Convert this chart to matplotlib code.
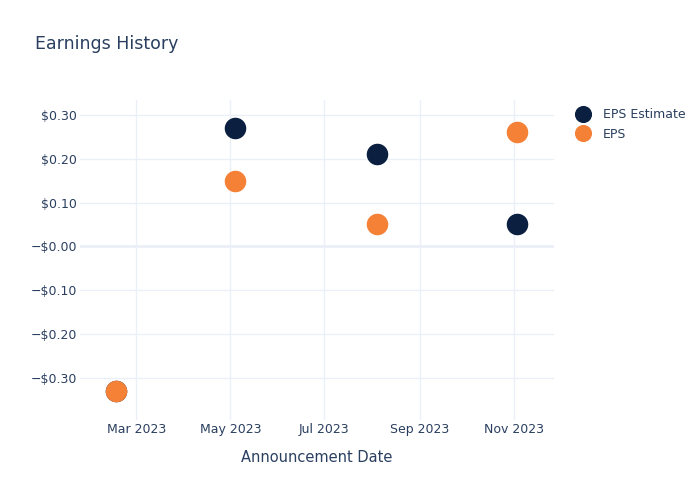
import numpy as np
import matplotlib
matplotlib.use("Agg")
import matplotlib.pyplot as plt
import matplotlib.dates as mdates
from datetime import datetime

# announcement dates and eps values
dates = [datetime(2023, 2, 16), datetime(2023, 5, 4), datetime(2023, 8, 4), datetime(2023, 11, 3)]
eps_estimate = [-0.33, 0.27, 0.21, 0.05]
eps_actual = [-0.33, 0.15, 0.05, 0.26]

y_ticks = [-0.30, -0.20, -0.10, 0.0, 0.10, 0.20, 0.30]
y_labels = ["\u2212$0.30", "\u2212$0.20", "\u2212$0.10", "\u2212$0.00", "$0.10", "$0.20", "$0.30"]

text_col = "#2a3f5f"
grid_col = "#ebf0f8"

fig = plt.figure(figsize=(7, 5), dpi=100)
ax = fig.add_axes([80 / 700, 80 / 500, 474 / 700, 320 / 500])

ax.plot(dates, eps_estimate, "o", color="#0b1f41", markersize=14.5, label="EPS Estimate", zorder=3)
ax.plot(dates, eps_actual, "o", color="#f58137", markersize=14.5, label="EPS", zorder=4)

ax.set_xlim(datetime(2023, 1, 23, 12), datetime(2023, 11, 27))
ax.set_ylim(-0.396, 0.334)

ax.xaxis.set_major_locator(mdates.MonthLocator(bymonth=[3, 5, 7, 9, 11]))
ax.xaxis.set_major_formatter(mdates.DateFormatter("%b %Y"))
ax.set_yticks(y_ticks)
ax.set_yticklabels(y_labels)

for s in ax.spines.values():
    s.set_visible(False)
ax.grid(True, color=grid_col, linewidth=1, zorder=0)
ax.axhline(0, color=grid_col, linewidth=2, zorder=1)
ax.set_axisbelow(True)
ax.tick_params(length=0, labelsize=9, labelcolor=text_col)
ax.tick_params(axis="x", pad=2)
ax.tick_params(axis="y", pad=2)

ax.set_xlabel("Announcement Date", fontsize=10.5, color=text_col, labelpad=10)
fig.text(35 / 700, 1 - 44 / 500, "Earnings History", fontsize=12.5, color=text_col, va="center")

leg = ax.legend(loc="upper left", bbox_to_anchor=(565 / 700, 1 - 103 / 500),
                bbox_transform=fig.transFigure, frameon=False, fontsize=9,
                labelcolor=text_col, handletextpad=0.65, labelspacing=0.52,
                markerscale=0.78, borderaxespad=0)

fig.savefig("out.png", dpi=100)
